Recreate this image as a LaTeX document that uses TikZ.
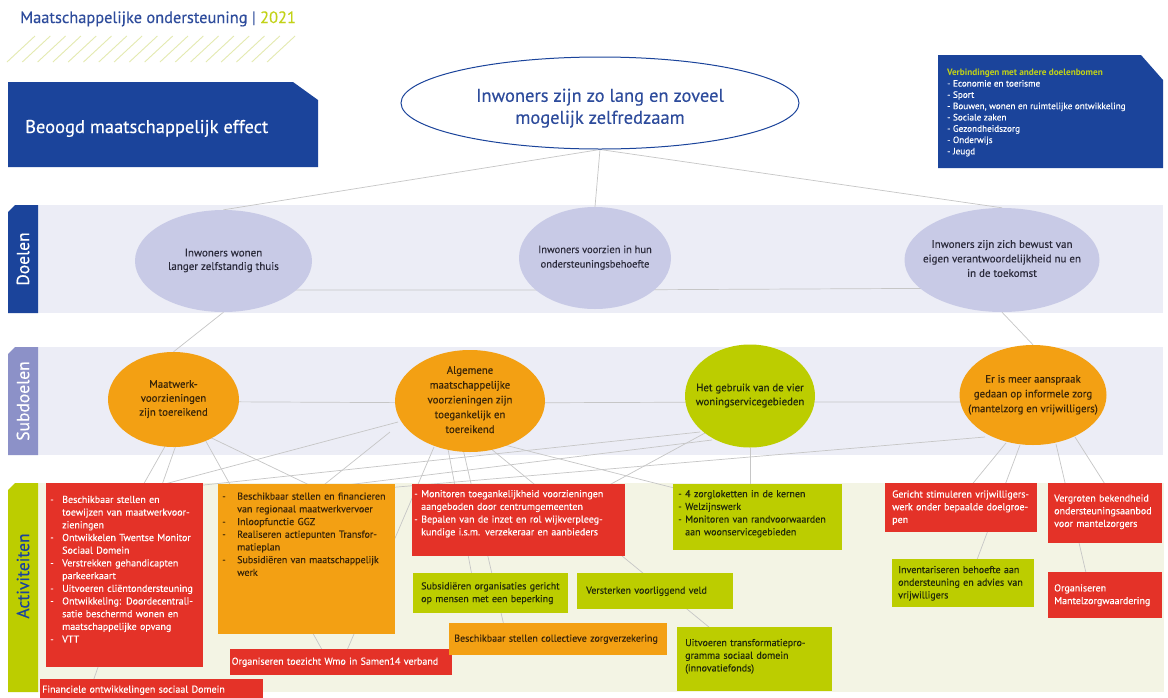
\documentclass[tikz,border=0pt]{standalone}
\usepackage{fontspec}
\setmainfont{PT Sans}[UprightFeatures={FakeBold=0.3}]
\usetikzlibrary{shapes.geometric,calc}
\definecolor{bluec}{HTML}{1B449B}
\definecolor{titleblue}{HTML}{2E4C9C}
\definecolor{limec}{HTML}{C2D217}
\definecolor{hatchc}{HTML}{E4EAB0}
\definecolor{lavc}{HTML}{ECEDF6}
\definecolor{goalc}{HTML}{C8CAE6}
\definecolor{subtabc}{HTML}{8C91C8}
\definecolor{creamc}{HTML}{F3F4E4}
\definecolor{orac}{HTML}{F3A013}
\definecolor{grnc}{HTML}{BCCD00}
\definecolor{redc}{HTML}{E43228}
\definecolor{linkc}{HTML}{C6C6C6}
\definecolor{oratext}{HTML}{3A2508}
\definecolor{grntext}{HTML}{222A0A}
\definecolor{goaltext}{HTML}{2A2A3A}
\pgfdeclarelayer{bands}
\pgfdeclarelayer{links}
\pgfsetlayers{bands,links,main}
\newcommand{\ctext}[2][0pt]{\smash{\makebox[0pt]{\raisebox{\dimexpr-0.2em-#1\relax}{\begin{tabular}{@{}c@{}}#2\end{tabular}}}}}
\newcommand{\lst}[2]{\begin{tabular}{@{}p{#1}@{}l@{}}#2\end{tabular}}
\newcommand{\lns}[1]{\begin{tabular}{@{}l@{}}#1\end{tabular}}
\begin{document}
\begin{tikzpicture}[x=1pt,y=-1pt,
  link/.style={draw=linkc, line width=0.7pt},
  goal/.style={ellipse, fill=goalc, inner sep=0pt, text=goaltext, font=\fontsize{10.5}{14.5}\selectfont},
  subgoal/.style={ellipse, inner sep=0pt, font=\fontsize{10.8}{14}\selectfont},
  actbox/.style={rectangle, anchor=north west, inner ysep=0pt, align=left, font=\fontsize{10}{12.7}\selectfont},
  redbox/.style={actbox, fill=redc, text=white},
  orabox/.style={actbox, fill=orac, text=oratext},
  grnbox/.style={actbox, fill=grnc, text=grntext},
  tablabel/.style={rotate=90, inner sep=0pt, font=\fontsize{17.5}{19}\selectfont}
]
\useasboundingbox (0,0) rectangle (1168,697);
\begin{pgfonlayer}{bands}
\fill[white] (0,0) rectangle (1168,697);
\foreach \i in {0,...,17} \draw[hatchc, line width=0.9pt] (7+\i*15.3,62) -- (35+\i*15.3,36);
\fill[bluec] (8,82) -- (293,82) -- (318,100) -- (318,167) -- (8,167) -- cycle;
\fill[bluec] (938,55) -- (1141,55) -- (1163,80) -- (1163,168) -- (938,168) -- cycle;
\fill[lavc] (38,205) rectangle (1163,313);
\fill[bluec] (15,205) -- (38,205) -- (38,313) -- (8,313) -- (8,212) -- cycle;
\fill[lavc] (38,347) rectangle (1163,455);
\fill[subtabc] (15,347) -- (38,347) -- (38,455) -- (8,455) -- (8,354) -- cycle;
\fill[creamc] (38,483) rectangle (1164,692);
\fill[grnc] (15,483) -- (38,483) -- (38,692) -- (8,692) -- (8,490) -- cycle;
\end{pgfonlayer}

% header
\node[anchor=base west, inner sep=0pt, font=\fontsize{16.4}{19}\selectfont, text=titleblue] (title) at (20,23) {Maatschappelijke ondersteuning | \textcolor{limec}{2021}};
\node[anchor=base west, inner sep=0pt, font=\fontsize{18.5}{21}\selectfont, text=white] (effect) at (25,133) {Beoogd maatschappelijk effect};
\node[anchor=north west, inner sep=0pt, align=left, font=\fontsize{9.2}{11.3}\selectfont, text=white] (verb) at (947,68.5)
 {\textbf{\textcolor{limec}{Verbindingen met andere doelenbomen}}\\- Economie en toerisme\\- Sport\\- Bouwen, wonen en ruimtelijke ontwikkeling\\- Sociale zaken\\- Gezondheidszorg\\- Onderwijs\\- Jeugd};

% tab labels
\node[tablabel, text=white] (tdoel) at (23,259) {Doelen};
\node[tablabel, text=white] (tsub) at (23,401) {Subdoelen};
\node[tablabel, text=bluec] (tact) at (23,576) {Activiteiten};

% main effect
\node[ellipse, draw=bluec, line width=1pt, fill=white, inner sep=0pt, minimum width=398pt, minimum height=92pt, text=titleblue, font=\fontsize{18.5}{22}\selectfont] (eff) at (600,103) {\ctext[6pt]{Inwoners zijn zo lang en zoveel\\mogelijk zelfredzaam}};

% goals
\node[goal, minimum width=177pt, minimum height=102pt, font=\fontsize{11}{13.5}\selectfont] (g1) at (223.5,261) {\ctext{Inwoners wonen\\langer zelfstandig thuis}};
\node[goal, minimum width=152pt, minimum height=102pt] (g2) at (595,258) {\ctext{Inwoners voorzien in hun\\ondersteuningsbehoefte}};
\node[goal, minimum width=195pt, minimum height=104pt, font=\fontsize{11}{14.5}\selectfont] (g3) at (1002,260) {\ctext{Inwoners zijn zich bewust van\\eigen verantwoordelijkheid nu en\\in de toekomst}};

% subgoals
\node[subgoal, fill=orac, text=oratext, minimum width=131pt, minimum height=95pt] (s1) at (173.5,399.5) {\ctext{Maatwerk-\\voorzieningen\\zijn toereikend}};
\node[subgoal, fill=orac, text=oratext, minimum width=150pt, minimum height=102pt, font=\fontsize{10.8}{14.8}\selectfont] (s2) at (470,401) {\ctext{Algemene\\maatschappelijke\\voorzieningen zijn\\toegankelijk en\\toereikend}};
\node[subgoal, fill=grnc, text=grntext, minimum width=130pt, minimum height=103pt] (s3) at (750,396) {\ctext{Het gebruik van de vier\\woningservicegebieden}};
\node[subgoal, fill=orac, text=oratext, minimum width=147pt, minimum height=100pt, font=\fontsize{10.8}{14.8}\selectfont] (s4) at (1033,395) {\ctext{Er is meer aanspraak\\gedaan op informele zorg\\(mantelzorg en vrijwilligers)}};

% activities
\node[redbox, inner xsep=4pt, text width=149pt, minimum height=184pt] (a1) at (46,483)
 {\lst{12pt}{- & Beschikbaar stellen en\\
  & toewijzen van maatwerkvoor-\\
  & zieningen\\
 - & Ontwikkelen Twentse Monitor\\
  & Sociaal Domein\\
 - & Verstrekken gehandicapten\\
  & parkeerkaart\\
 - & Uitvoeren cliëntondersteuning\\
 - & Ontwikkeling: Doordecentrali-\\
  & satie beschermd wonen en\\
  & maatschappelijke opvang\\
 - & VTT\\[10pt]}};
\node[redbox, inner xsep=2pt, text width=219pt, minimum height=22pt] (a2) at (40,679) {Financiele ontwikkelingen sociaal Domein};
\node[orabox, inner xsep=4pt, text width=169pt, minimum height=150pt] (a3) at (218,484)
 {\lst{15pt}{- & Beschikbaar stellen en financieren\\
  & van regionaal maatwerkvervoer\\
 - & Inloopfunctie GGZ\\
 - & Realiseren actiepunten Transfor-\\
  & matieplan\\
 - & Subsidiëren van maatschappelijk\\
  & werk\\[48pt]}};
\node[redbox, inner xsep=1.5pt, text width=219pt, minimum height=26pt] (a4) at (230,649) {Organiseren toezicht Wmo in Samen14 verband};
\node[redbox, inner xsep=2pt, text width=209pt, minimum height=72pt] (a5) at (412,484)
 {\lst{7pt}{- & Monitoren toegankelijkheid voorzieningen\\
  & aangeboden door centrumgemeenten\\
 - & Bepalen van de inzet en rol wijkverpleeg-\\
  & kundige i.s.m. verzekeraar en aanbieders\\[13pt]}};
\node[grnbox, inner xsep=8pt, text width=139pt, minimum height=40pt] (a6) at (413,573) {\lns{Subsidiëren organisaties gericht\\op mensen met een beperking}};
\node[grnbox, inner xsep=9pt, text width=138pt, minimum height=36pt] (a7) at (577,573) {Versterken voorliggend veld};
\node[orabox, inner xsep=5pt, text width=208pt, minimum height=32pt] (a8) at (449,623) {Beschikbaar stellen collectieve zorgverzekering};
\node[grnbox, inner xsep=5pt, text width=159pt, minimum height=66pt] (a9) at (673,484)
 {\lst{7pt}{- & 4 zorgloketten in de kernen\\
 - & Welzijnswerk\\
 - & Monitoren van randvoorwaarden\\
  & aan woonservicegebieden\\[7pt]}};
\node[grnbox, inner xsep=8pt, text width=139pt, minimum height=64pt] (a10) at (677,627) {\lns{Uitvoeren transformatiepro-\\gramma sociaal domein\\(innovatiefonds)\\[6pt]}};
\node[redbox, inner xsep=7pt, text width=138pt, minimum height=49pt] (a11) at (885,483) {\lns{Gericht stimuleren vrijwilligers-\\werk onder bepaalde doelgroe-\\pen}};
\node[redbox, inner xsep=6pt, text width=102pt, minimum height=60pt] (a12) at (1048,483) {\lns{Vergroten bekendheid\\ondersteuningsaanbod\\voor mantelzorgers\\[3pt]}};
\node[grnbox, inner xsep=6pt, text width=130pt, minimum height=48pt] (a13) at (892,559) {\lns{Inventariseren behoefte aan\\ondersteuning en advies van\\vrijwilligers}};
\node[redbox, inner xsep=6pt, text width=102pt, minimum height=46pt] (a14) at (1048,572) {\lns{Organiseren\\Mantelzorgwaardering}};

% connectors
\begin{pgfonlayer}{links}
\draw[link] (eff.south) -- (g1.north);
\draw[link] (eff.south) -- (g2.north);
\draw[link] (eff.south) -- (g3.north);
\draw[link] ($(g1.center)+(0,29)$) -- ($(g2.center)+(0,32)$) -- ($(g3.center)+(0,28)$);
\draw[link] (g1.south) -- (s1.north);
\draw[link] (g3.south) -- (s4.north);
\draw[link] ($(s1.center)+(0,2)$) -- ($(s2.center)+(0,2)$) -- ($(s3.center)+(0,6)$) -- ($(s4.center)+(0,7)$);
% subgoal 1
\draw[link] ($(s1.center)+(-8,46)$) -- ($(a1.north west)+(96,4)$);
\draw[link] ($(s1.center)+(2,47)$) -- ($(a2.north west)+(50,11)$);
\draw[link] ($(s1.center)+(32,41)$) -- ($(a4.north west)+(95,6)$);
\draw[link] ($(s1.center)+(37,38)$) -- ($(a3.north west)+(110,10)$);
% subgoal 2
\draw[link] ($(s2.center)+(-72,21)$) -- ($(a1.north west)+(100,6)$);
\draw[link] ($(s2.center)+(-80,31)$) -- ($(a3.north west)+(97,8)$);
\draw[link] ($(s2.center)+(-36,46)$) -- ($(a4.north west)+(115,6)$);
\draw[link] ($(s2.center)+(-22,48)$) -- ($(a6.north west)+(60,8)$);
\draw[link] ($(s2.center)+(-7,48)$) -- ($(a8.north west)+(56,7)$);
\draw[link] ($(s2.center)+(20,47)$) -- ($(a10.north west)+(38,5)$);
\draw[link] ($(s2.center)+(7,37)$) -- ($(a9.north west)+(17,8)$);
% subgoal 3
\draw[link] (s3.south) -- ($(a9.north west)+(77,6)$);
\draw[link] ($(s3.center)+(-45,37)$) -- ($(a5.north west)+(188,6)$);
\draw[link] ($(a1.north west)+(139,4)$) -- ($(s3.center)+(-50,36)$);
\draw[link] ($(a3.north west)+(112,3)$) -- ($(s3.center)+(-38,44)$);
% subgoal 4
\draw[link] ($(a3.north east)+(-10,4)$) -- ($(s4.center)+(-48,42)$);
\draw[link] ($(s4.center)+(-27,48)$) -- ($(a11.north west)+(80,10)$);
\draw[link] ($(s4.center)+(-13,50)$) -- ($(a13.north west)+(83,6)$);
\draw[link] ($(s4.center)+(23,49)$) -- ($(a14.north west)+(42,18)$);
\draw[link] ($(s4.center)+(42,42)$) -- ($(a12.north west)+(62,9)$);
\end{pgfonlayer}
\end{tikzpicture}
\end{document}
